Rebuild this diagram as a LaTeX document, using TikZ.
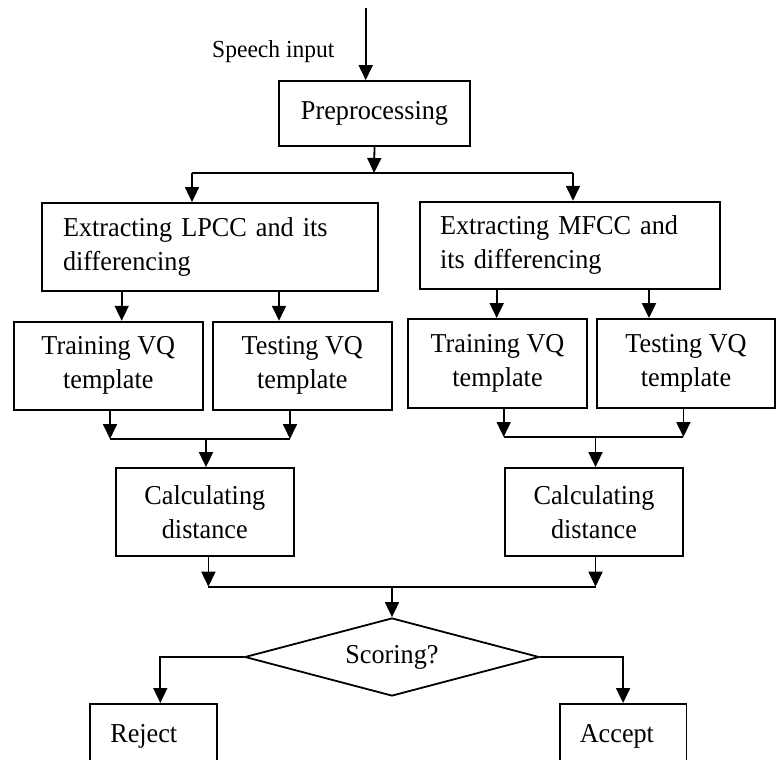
\documentclass[tikz,border=0pt]{standalone}
\usepackage{fontspec}
\setmainfont[FakeStretch=0.96]{Liberation Serif}
\usetikzlibrary{arrows.meta,shapes.geometric}

\begin{document}
\begin{tikzpicture}[x=1pt,y=-1pt,>={Triangle[length=15pt,width=14pt]},
                    line width=1.8pt]
          \tikzstyle{block}=[draw,rectangle,inner sep=0pt,align=center,
                             font=\fontsize{27.3}{34}\selectfont]
          \tikzstyle{wide}=[block,align=left,inner xsep=20pt]
          \tikzstyle{decide}=[draw,diamond,aspect=3.77,inner sep=0pt,
                              font=\fontsize{27.3}{34}\selectfont]

          \useasboundingbox (0,0) rectangle (777,760);
          \clip (0,0) rectangle (777,760);

          \node (speech) at (273.3,51.7) {\fontsize{24.5}{28}\selectfont Speech input};
          \node[block,minimum width=191,minimum height=65] (pre) at (374.5,113.5) {Preprocessing};

          \node[wide,inner xsep=21pt,text width=293.8,minimum width=336.3,minimum height=88]
               (lpcc) at (209.9,247) {Extracting LPCC and its\\differencing};
          \node[wide,text width=260,minimum width=300,minimum height=87.3]
               (mfcc) at (570,245.3) {Extracting MFCC and\\its differencing};

          \node[block,minimum width=188.7,minimum height=88.3] (trainL) at (108.3,365.8) {Training VQ\\template};
          \node[block,minimum width=178.7,minimum height=88.3] (testL)  at (302.3,365.8) {Testing VQ\\template};
          \node[block,minimum width=179,minimum height=88.7]   (trainR) at (497.5,363.3) {Training VQ\\template};
          \node[block,minimum width=178,minimum height=88.7]   (testR)  at (686,363.3)   {Testing VQ\\template};

          \node[block,minimum width=178.4,minimum height=88] (calcL) at (204.8,512) {Calculating\\distance};
          \node[block,minimum width=178.7,minimum height=88] (calcR) at (594,512)   {Calculating\\distance};

          \node[decide,minimum width=294.3,minimum height=78] (score) at (392,657) {Scoring?};

          \node[wide,anchor=north,inner ysep=0pt,text height=39,text depth=60,
                text width=86.6,minimum width=126.6] (reject) at (153.6,703) {Reject};
          \node[wide,anchor=north,inner ysep=0pt,text height=39,text depth=60,
                text width=86.6,minimum width=126.6] (accept) at (623.1,703) {Accept};

          % joints
          \coordinate (in) at (365.7,8);
          \coordinate (j1) at (374,173);
          \coordinate (j1l) at (192,173);
          \coordinate (j1r) at (573,173);
          \coordinate (a1) at (121.7,306);
          \coordinate (a2) at (279,306);
          \coordinate (a3) at (496.7,304);
          \coordinate (a4) at (649,304);
          \coordinate (m1) at (110,439);
          \coordinate (m2) at (290,439);
          \coordinate (m3) at (206,439);
          \coordinate (m4) at (503.7,437);
          \coordinate (m5) at (683.4,437);
          \coordinate (m6) at (595.5,437);
          \coordinate (b1) at (208.4,586.7);
          \coordinate (b2) at (595.5,586.7);
          \coordinate (b3) at (392,586.7);
          \coordinate (r1) at (160.3,657);

          \draw[->] (in) -- (in |- pre.north);
          \draw[->] (pre.south) -- (j1);
          \draw (j1l) -- (j1r);
          \draw[->] (j1l) -- (j1l |- lpcc.north);
          \draw[->] (j1r) -- (j1r |- mfcc.north);

          \draw[->] (a1 |- lpcc.south) -- (a1 |- trainL.north);
          \draw[->] (a2 |- lpcc.south) -- (a2 |- testL.north);
          \draw[->] (a3 |- mfcc.south) -- (a3 |- trainR.north);
          \draw[->] (a4 |- mfcc.south) -- (a4 |- testR.north);

          \draw[->] (m1 |- trainL.south) -- (m1);
          \draw[->] (m2 |- testL.south) -- (m2);
          \draw (m1) -- (m2);
          \draw[->] (m3) -- (m3 |- calcL.north);
          \draw[->] (m4 |- trainR.south) -- (m4);
          \draw[->] (m5 |- testR.south) -- (m5);
          \draw (m4) -- (m5);
          \draw[->] (m6) -- (m6 |- calcR.north);

          \draw[->] (b1 |- calcL.south) -- (b1);
          \draw[->] (b2 |- calcR.south) -- (b2);
          \draw (b1) -- (b2);
          \draw[->] (b3) -- (score.north);

          \draw[->] (score.west) -| (r1 |- reject.north);
          \draw[->] (score.east) -| (accept.north);

        \end{tikzpicture}
\end{document}
